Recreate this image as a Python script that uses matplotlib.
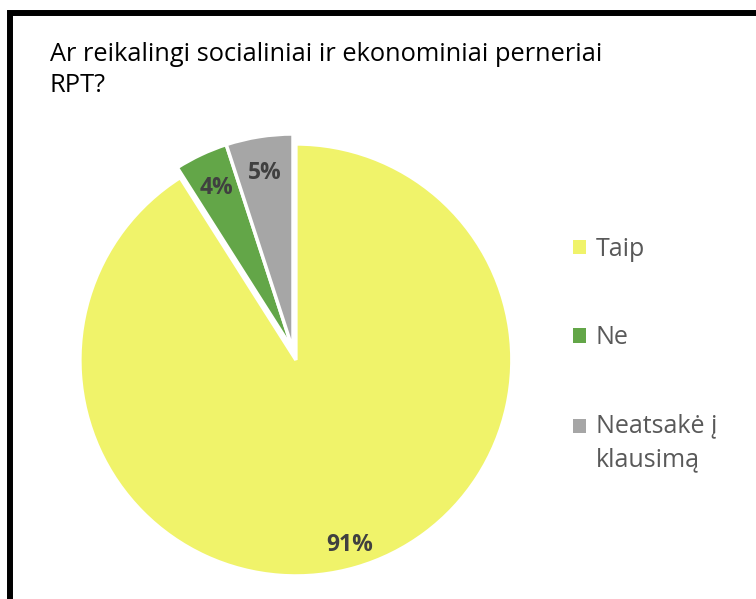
import matplotlib
matplotlib.use("Agg")
import matplotlib.pyplot as plt
from matplotlib.patches import Rectangle
from matplotlib.legend_handler import HandlerPatch

# duomenys
labels = ["Taip", "Ne", "Neatsakė į\nklausimą"]
values = [91, 4, 5]
colors = ["#F0F36A", "#63A648", "#A6A6A6"]
explode = [0.048, 0, 0]
title = "Ar reikalingi socialiniai ir ekonominiai perneriai\nRPT?"

plt.rcParams['font.family'] = ['Open Sans', 'DejaVu Sans']

fig = plt.figure(figsize=(7.56, 5.99), dpi=100)
ax = fig.add_axes([77 / 756, 33 / 599, 432 / 756, 432 / 599])

wedges, texts, autotexts = ax.pie(
    values, colors=colors, explode=explode, startangle=90, counterclock=False,
    autopct='%1.0f%%', pctdistance=0.83,
    wedgeprops={'edgecolor': 'white', 'linewidth': 2.5, 'clip_on': False},
    textprops={'fontsize': 16.5, 'fontweight': 'bold', 'color': '#404040'})
ax.set_xlim(-1, 1)
ax.set_ylim(-1, 1)
ax.set_aspect('equal')
ax.axis('off')

# 91% etiketė toliau nuo centro
x, y = autotexts[0].get_position()
cx, cy = wedges[0].center
autotexts[0].set_position((cx + (x - cx) * 0.89 / 0.83, cy + (y - cy) * 0.89 / 0.83))

fig.text(50 / 756, 1 - 42 / 599, title, fontsize=18.3, color='#000000',
         va='top', ha='left', linespacing=1.3)


# kvadratėlis prie pirmos eilutės, kai tekstas dviejų eilučių
def square(legend, orig_handle, xdescent, ydescent, width, height, fontsize):
    n = len(orig_handle.get_label().split("\n"))
    dy = (n - 1) * 0.7 * fontsize
    return Rectangle((-xdescent, -ydescent + dy), width, height)


for w, lab in zip(wedges, labels):
    w.set_label(lab)

leg = fig.legend(wedges, labels, loc='upper left', bbox_to_anchor=(573 / 756, 1 - 237 / 599),
                 frameon=False, fontsize=18, labelcolor='#595959', borderpad=0, borderaxespad=0,
                 handlelength=0.5, handleheight=0.5, handletextpad=0.4, labelspacing=2.53,
                 handler_map={w: HandlerPatch(patch_func=square) for w in wedges})
for h in leg.legend_handles:
    h.set_linewidth(0)
for t in leg.get_texts():
    t.set_linespacing(1.45)

# rėmelis
fig.patches.append(Rectangle((9.5 / 756, -0.1), 1.2, 1 - 13 / 599 + 0.1, transform=fig.transFigure,
                             fill=False, edgecolor='black', linewidth=4.3, figure=fig))

fig.savefig("out.png", dpi=100)
